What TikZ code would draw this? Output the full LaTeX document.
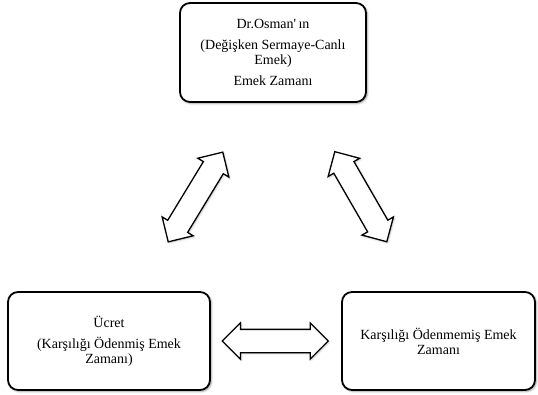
\documentclass[tikz,border=0pt]{standalone}
\usepackage{fontspec}
\setmainfont{Liberation Serif}
\usetikzlibrary{shapes,arrows,shadows.blur}

\begin{document}
\begin{tikzpicture}[x=1pt,y=-1pt,font=\fontsize{14}{15}\selectfont]
  \tikzstyle{box}=[rectangle,rounded corners=10pt,line width=1.8pt,draw=black,
                   fill=white,align=center,inner sep=0pt,
                   blur shadow={shadow xshift=1.5pt,shadow yshift=-1.5pt,
                                shadow blur steps=6,shadow opacity=35}]
  \tikzstyle{dbl}=[double arrow,draw=black,line width=1.3pt,fill=white,
                   inner xsep=0pt,inner ysep=11pt,double arrow head extend=6.5pt,
                   double arrow tip angle=90,
                   blur shadow={shadow xshift=1pt,shadow yshift=-1pt,
                                shadow blur steps=4,shadow opacity=25}]
  \useasboundingbox (0,0) rectangle (538,394);

  % the three boxes
  \node [box,minimum width=186pt,minimum height=99pt] (emek) at (273,52.5)
    {Dr.Osman\textquotesingle\,ın\\[6pt](Değişken Sermaye-Canlı\\Emek)\\[6pt]Emek Zamanı};
  \node [box,minimum width=202pt,minimum height=98pt] (ucret) at (109,341)
    {Ücret\\[6pt](Karşılığı Ödenmiş Emek\\Zamanı)};
  \node [box,minimum width=193pt,minimum height=98pt] (odenmemis) at (438.5,341)
    {Karşılığı Ödenmemiş Emek\\Zamanı};

  % double arrows between them
  \node [dbl,minimum height=105pt,rotate=58.7] (sol) at (195.5,197) {};
  \node [dbl,minimum height=104pt,rotate=-60] (sag) at (360.8,196.7) {};
  \node [dbl,minimum height=106pt] (alt) at (275.3,341) {};
\end{tikzpicture}
\end{document}
